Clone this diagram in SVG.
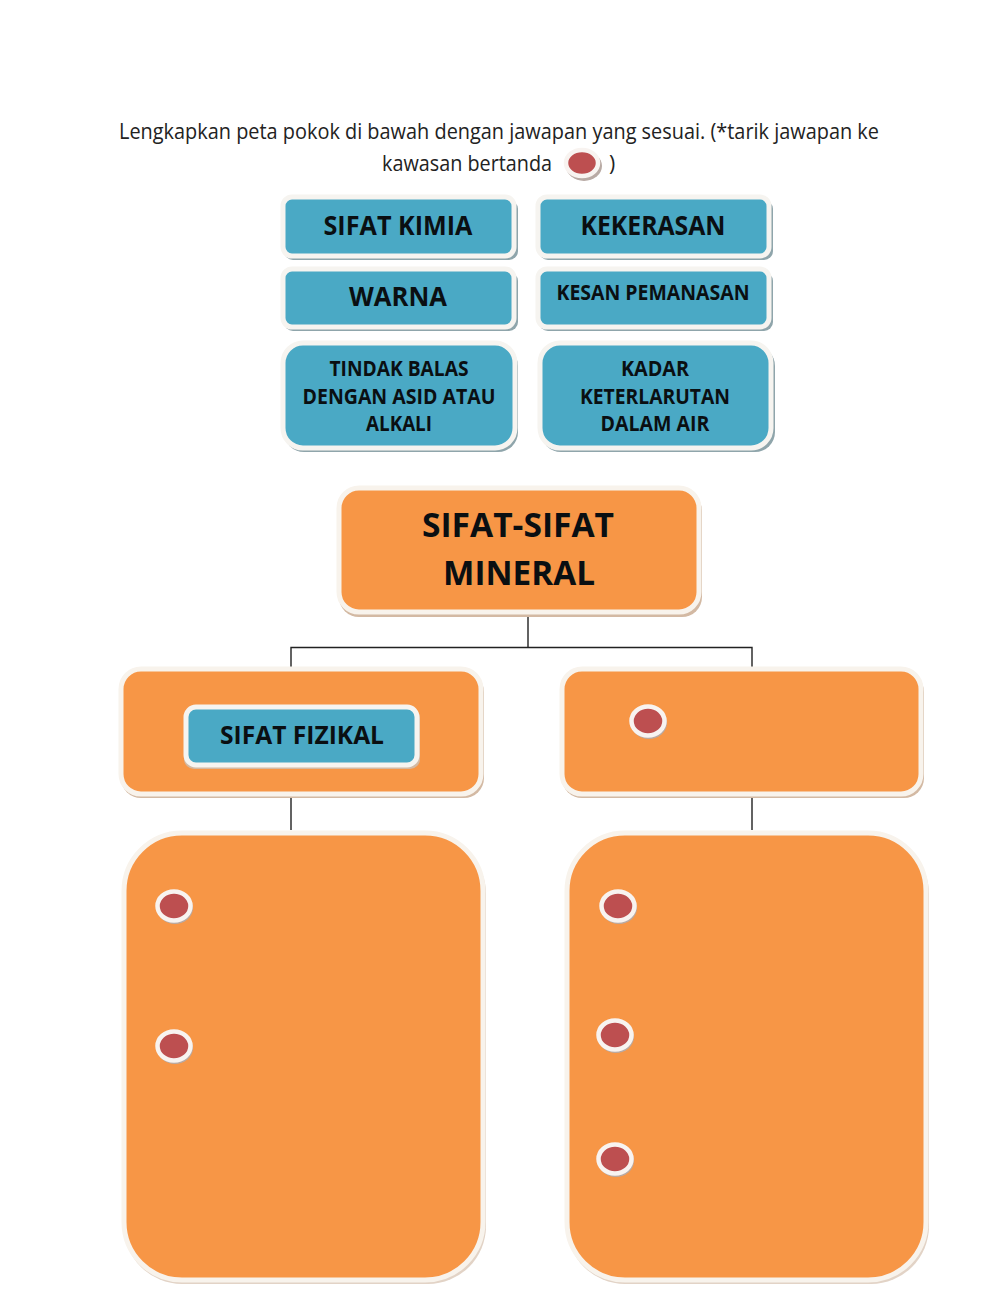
<svg xmlns="http://www.w3.org/2000/svg" width="1000" height="1291" viewBox="0 0 1000 1291">
<defs>
<style>
text{font-family:"Open Sans","Noto Sans","Liberation Sans",sans-serif;fill:#0a0f12;text-anchor:middle}
.h{font-weight:700}
.p{font-size:21px;fill:#222}
.b{fill:#4aa9c5;stroke:#f6f4f0;stroke-width:5}
.o{fill:#f79646;stroke:#f8f3ec;stroke-width:5}
.sb{fill:#8fa5ab}
.so{fill:#d3b9a3}
.sl{fill:#e2d3c6}
.d{fill:#bd4f50;stroke:#f8f3f0;stroke-width:4.500}
.ds{fill:#b8aaa4}
.c{fill:none;stroke:#222;stroke-width:1.4}
</style>
</defs>
<rect width="1000" height="1291" fill="#fff"/>
<text class="p" x="499" y="139" textLength="760" lengthAdjust="spacingAndGlyphs">Lengkapkan peta pokok di bawah dengan jawapan yang sesuai. (*tarik jawapan ke</text>
<text class="p" x="467" y="171" textLength="170" lengthAdjust="spacingAndGlyphs">kawasan bertanda</text>
<text class="p" x="612" y="171">)</text>
<g id="legend-dot"><ellipse class="ds" cx="584" cy="166" rx="18" ry="15"/><ellipse class="d" cx="582" cy="163" rx="16" ry="13"/></g>

<g id="connectors">
<path class="c" d="M528 612V647.5M291 667V647.5H752V667M291 797V830M752 797V830"/>
</g>

<g id="n-sifat-kimia"><rect class="sb" x="284" y="200" width="234" height="60" rx="9"/><rect class="b" x="283" y="197" width="231" height="59" rx="9"/>
<text class="h" x="398" y="235" font-size="26" textLength="149" lengthAdjust="spacingAndGlyphs">SIFAT KIMIA</text></g>
<g id="n-kekerasan"><rect class="sb" x="539" y="200" width="234" height="60" rx="9"/><rect class="b" x="538" y="197" width="231" height="59" rx="9"/>
<text class="h" x="653" y="235" font-size="26" textLength="145" lengthAdjust="spacingAndGlyphs">KEKERASAN</text></g>
<g id="n-warna"><rect class="sb" x="284" y="272" width="234" height="59" rx="9"/><rect class="b" x="283" y="269" width="231" height="58" rx="9"/>
<text class="h" x="398" y="306" font-size="26" textLength="98" lengthAdjust="spacingAndGlyphs">WARNA</text></g>
<g id="n-kesan"><rect class="sb" x="539" y="272" width="234" height="59" rx="9"/><rect class="b" x="538" y="269" width="231" height="58" rx="9"/>
<text class="h" x="653" y="300" font-size="21" textLength="193" lengthAdjust="spacingAndGlyphs">KESAN PEMANASAN</text></g>
<g id="n-tindak"><rect class="sb" x="284" y="346" width="234" height="106" rx="20"/><rect class="b" x="283" y="343" width="232" height="105" rx="20"/>
<text class="h" x="399" y="376" font-size="21" textLength="139" lengthAdjust="spacingAndGlyphs">TINDAK BALAS</text>
<text class="h" x="399" y="404" font-size="21" textLength="193" lengthAdjust="spacingAndGlyphs">DENGAN ASID ATAU</text>
<text class="h" x="399" y="431" font-size="21" textLength="66" lengthAdjust="spacingAndGlyphs">ALKALI</text></g>
<g id="n-kadar"><rect class="sb" x="541" y="346" width="234" height="106" rx="20"/><rect class="b" x="540" y="343" width="231" height="105" rx="20"/>
<text class="h" x="655" y="376" font-size="21" textLength="68" lengthAdjust="spacingAndGlyphs">KADAR</text>
<text class="h" x="655" y="404" font-size="21" textLength="150" lengthAdjust="spacingAndGlyphs">KETERLARUTAN</text>
<text class="h" x="655" y="431" font-size="21" textLength="109" lengthAdjust="spacingAndGlyphs">DALAM AIR</text></g>

<g id="n-main"><rect class="so" x="339" y="491" width="363" height="126" rx="20"/><rect class="o" x="339" y="488" width="360" height="124" rx="20"/>
<text class="h" x="518" y="537" font-size="34" textLength="192" lengthAdjust="spacingAndGlyphs">SIFAT-SIFAT</text>
<text class="h" x="519" y="585" font-size="34" textLength="152" lengthAdjust="spacingAndGlyphs">MINERAL</text></g>

<g id="n-left"><rect class="so" x="121" y="672" width="363" height="126" rx="20"/><rect class="o" x="121" y="669" width="360" height="125" rx="20"/></g>
<g id="n-sifat-fizikal"><rect class="so" x="184" y="708" width="236" height="61" rx="10"/><rect class="b" x="186" y="707" width="231" height="58" rx="10"/>
<text class="h" x="302" y="744" font-size="25" textLength="164" lengthAdjust="spacingAndGlyphs">SIFAT FIZIKAL</text></g>
<g id="n-right"><rect class="so" x="562" y="672" width="362" height="126" rx="20"/><rect class="o" x="562" y="669" width="359" height="125" rx="20"/></g>

<g id="n-large-left"><rect class="sl" x="124" y="836" width="362" height="448" rx="58"/><rect class="o" x="124" y="833" width="359" height="447" rx="58"/></g>
<g id="n-large-right"><rect class="sl" x="567" y="836" width="362" height="448" rx="58"/><rect class="o" x="567" y="833" width="359" height="447" rx="58"/></g>

<g id="dot-1"><ellipse class="ds" cx="175" cy="908" rx="18" ry="16"/><ellipse class="d" cx="174" cy="906" rx="16.500" ry="14.500"/></g>
<g id="dot-2"><ellipse class="ds" cx="175" cy="1048" rx="18" ry="16"/><ellipse class="d" cx="174" cy="1046" rx="16.500" ry="14.500"/></g>
<g id="dot-3"><ellipse class="ds" cx="649" cy="723" rx="18" ry="16"/><ellipse class="d" cx="648" cy="721" rx="16.500" ry="14.500"/></g>
<g id="dot-4"><ellipse class="ds" cx="619" cy="908" rx="18" ry="16"/><ellipse class="d" cx="618" cy="906" rx="16.500" ry="14.500"/></g>
<g id="dot-5"><ellipse class="ds" cx="616" cy="1037" rx="18" ry="16"/><ellipse class="d" cx="615" cy="1035" rx="16.500" ry="14.500"/></g>
<g id="dot-6"><ellipse class="ds" cx="616" cy="1161" rx="18" ry="16"/><ellipse class="d" cx="615" cy="1159" rx="16.500" ry="14.500"/></g>
</svg>
